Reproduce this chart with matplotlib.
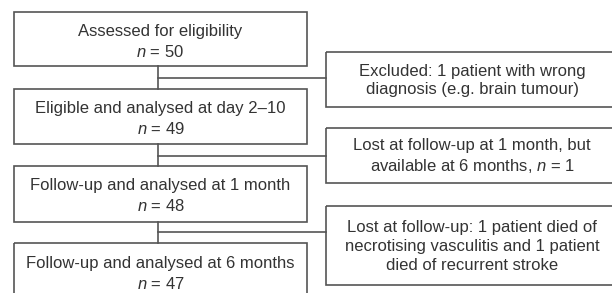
import matplotlib
matplotlib.use("Agg")
import matplotlib.pyplot as plt
from matplotlib.patches import Rectangle

plt.rcParams['font.family'] = ['Liberation Sans', 'DejaVu Sans']
plt.rcParams['mathtext.fontset'] = 'custom'
plt.rcParams['mathtext.rm'] = 'Liberation Sans'
plt.rcParams['mathtext.it'] = 'Liberation Sans:italic'

# Data
main_labels = [
    "Assessed for eligibility",
    "Eligible and analysed at day 2\u201310",
    "Follow-up and analysed at 1 month",
    "Follow-up and analysed at 6 months",
]
main_n = [50, 49, 48, 47]
side_labels = [
    "Excluded: 1 patient with wrong\ndiagnosis (e.g. brain tumour)",
    "Lost at follow-up at 1 month, but\navailable at 6 months, $n$ = 1",
    "Lost at follow-up: 1 patient died of\nnecrotising vasculitis and 1 patient\ndied of recurrent stroke",
]

# Layout (pixels)
W, H = 612, 293
main_x0, main_x1 = 14, 307
main_boxes = [(12, 66), (89, 144), (166, 222), (243, 303)]
main_text_y = [42, 119, 196, 274]
side_x0, side_x1 = 326, 616
side_text_x = 472
side_boxes = [(52, 107), (128, 183), (206, 285)]
conn_y = [78, 156, 232]
stem_x = 158

edge = '#555555'
txt = '#333333'

fig = plt.figure(figsize=(W / 100, H / 100), dpi=100)
ax = fig.add_axes([0, 0, 1, 1])
ax.set_xlim(0, W)
ax.set_ylim(H, 0)
ax.axis('off')

for (y0, y1), lab, n, ty in zip(main_boxes, main_labels, main_n, main_text_y):
    ax.add_patch(Rectangle((main_x0, y0), main_x1 - main_x0, y1 - y0,
                           fill=False, ec=edge, lw=1.2))
    ax.text((main_x0 + main_x1) / 2, ty, f"{lab}\n$n$ = {n}", ha='center', va='center',
            multialignment='center', fontsize=12, color=txt, linespacing=1.32)

for (y0, y1), lab in zip(side_boxes, side_labels):
    ax.add_patch(Rectangle((side_x0, y0), side_x1 - side_x0, y1 - y0,
                           fill=False, ec=edge, lw=1.2))
    ax.text(side_text_x, (y0 + y1) / 2 + 1, lab, ha='center', va='center',
            multialignment='center', fontsize=12, color=txt, linespacing=1.32)

for i, cy in enumerate(conn_y):
    ax.plot([stem_x, stem_x], [main_boxes[i][1], main_boxes[i + 1][0]], color=edge, lw=1.2)
    ax.plot([stem_x, side_x0], [cy, cy], color=edge, lw=1.2)

fig.savefig('out.png', dpi=100)
